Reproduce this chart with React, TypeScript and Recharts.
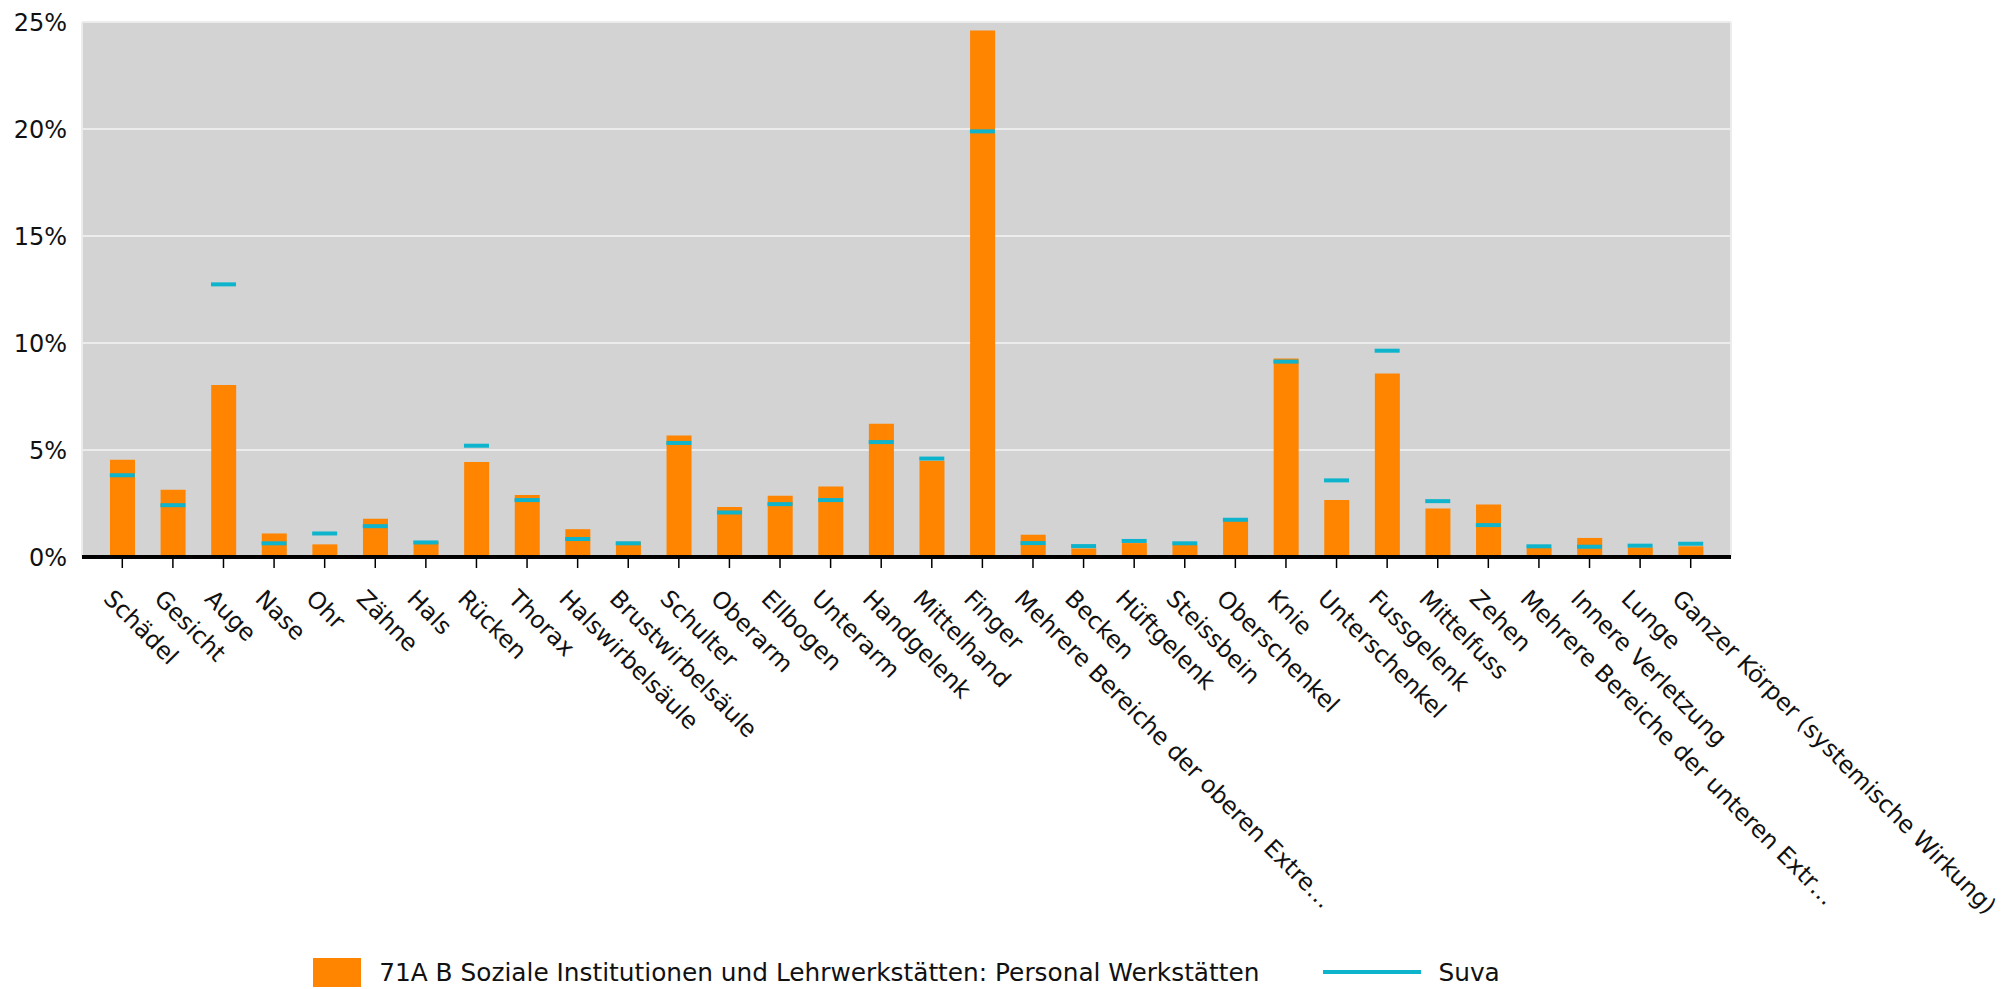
import React from "react";
import {
  ComposedChart,
  Bar,
  Line,
  XAxis,
  YAxis,
  CartesianGrid,
  Legend,
} from "recharts";

const categories = [
  "Schädel",
  "Gesicht",
  "Auge",
  "Nase",
  "Ohr",
  "Zähne",
  "Hals",
  "Rücken",
  "Thorax",
  "Halswirbelsäule",
  "Brustwirbelsäule",
  "Schulter",
  "Oberarm",
  "Ellbogen",
  "Unterarm",
  "Handgelenk",
  "Mittelhand",
  "Finger",
  "Mehrere Bereiche der oberen Extre…",
  "Becken",
  "Hüftgelenk",
  "Steissbein",
  "Oberschenkel",
  "Knie",
  "Unterschenkel",
  "Fussgelenk",
  "Mittelfuss",
  "Zehen",
  "Mehrere Bereiche der unteren Extr…",
  "Innere Verletzung",
  "Lunge",
  "Ganzer Körper (systemische Wirkung)",
];

// Anteil in % - 71A B Soziale Institutionen und Lehrwerkstätten
const werkstaetten = [
  4.55, 3.14, 8.04, 1.1, 0.59, 1.79, 0.72, 4.44, 2.9, 1.3, 0.71, 5.68, 2.34,
  2.86, 3.29, 6.23, 4.5, 24.6, 1.04, 0.4, 0.65, 0.56, 1.8, 9.28, 2.66, 8.57,
  2.27, 2.45, 0.42, 0.89, 0.45, 0.5,
];

// Anteil in % - Suva gesamt
const suva = [
  3.82, 2.42, 12.74, 0.64, 1.1, 1.44, 0.68, 5.2, 2.66, 0.84, 0.64, 5.33, 2.08,
  2.47, 2.66, 5.37, 4.6, 19.89, 0.65, 0.51, 0.75, 0.64, 1.74, 9.13, 3.58, 9.64,
  2.61, 1.49, 0.5, 0.48, 0.53, 0.62,
];

const yTicks = [0, 5, 10, 15, 20, 25];

const seriesName = "71A B Soziale Institutionen und Lehrwerkstätten: Personal Werkstätten";
const ORANGE = "#ff8400";
const CYAN = "#0db4cc";

const data = categories.map((name, i) => ({
  name,
  werkstaetten: werkstaetten[i],
  suva: suva[i],
}));

const XTick = (props: any) => {
  const { x, y, payload } = props;
  return (
    <g transform={`translate(${x - 20},${y + 30}) rotate(45)`}>
      <text x={0} y={0} textAnchor="start" fontSize={23.6} fill="#111">
        {payload.value}
      </text>
    </g>
  );
};

const SuvaMark = (props: any) => {
  const { cx, cy, index } = props;
  if (cx == null || cy == null) return <g key={index} />;
  return <rect key={index} x={cx - 12.5} y={cy - 2} width={25} height={4} fill={CYAN} />;
};

const LegendBox = () => (
  <div
    style={{
      display: "flex",
      alignItems: "center",
      justifyContent: "center",
      width: 1649,
      marginLeft: 82,
      height: 34,
      fontSize: 24.8,
      color: "#111",
      whiteSpace: "nowrap",
    }}
  >
    <span style={{ width: 48, height: 29, background: ORANGE, display: "inline-block" }} />
    <span style={{ marginLeft: 18 }}>{seriesName}</span>
    <span
      style={{ width: 98, height: 4, background: CYAN, display: "inline-block", marginLeft: 64 }}
    />
    <span style={{ marginLeft: 17 }}>Suva</span>
  </div>
);

export default function App() {
  return (
    <div
      style={{
        position: "absolute",
        left: 0,
        top: 0,
        fontFamily: '"DejaVu Sans", Verdana, sans-serif',
      }}
    >
      <ComposedChart
        width={2003}
        height={989}
        data={data}
        margin={{ top: 22, right: 272, left: 0, bottom: 52 }}
      >
        <CartesianGrid
          fill="#d3d3d3"
          fillOpacity={1}
          stroke="#ececec"
          strokeWidth={2}
          verticalPoints={[82, 1731]}
        />
        <XAxis
          dataKey="name"
          interval={0}
          height={380}
          padding={{ left: 15, right: 15 }}
          axisLine={{ stroke: "#000", strokeWidth: 4 }}
          tickLine={{ stroke: "#000", strokeWidth: 1.5 }}
          tickSize={11}
          tick={<XTick />}
        />
        <YAxis
          width={82}
          domain={[0, 25]}
          ticks={yTicks}
          tickFormatter={(v) => `${v}%`}
          axisLine={false}
          tickLine={false}
          tickSize={0}
          tickMargin={15}
          tick={{ fill: "#111", fontSize: 24 }}
        />
        <Legend
          verticalAlign="middle"
          align="center"
          wrapperStyle={{ top: 955, left: 0, width: 2003 }}
          content={() => <LegendBox />}
        />
        <Bar
          dataKey="werkstaetten"
          name={seriesName}
          fill={ORANGE}
          barSize={25}
          isAnimationActive={false}
        />
        <Line
          dataKey="suva"
          name="Suva"
          stroke="none"
          dot={SuvaMark}
          activeDot={false}
          isAnimationActive={false}
        />
      </ComposedChart>
    </div>
  );
}
